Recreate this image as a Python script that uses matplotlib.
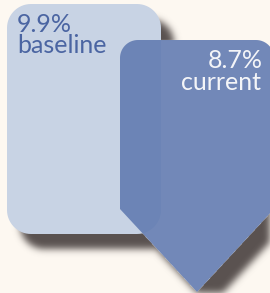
import numpy as np
import matplotlib
matplotlib.use('Agg')
import matplotlib.pyplot as plt
from matplotlib.path import Path
from matplotlib.patches import PathPatch

# ------------------------------------------------------------
# data
labels = ['baseline', 'current']
values = [9.9, 8.7]

# ------------------------------------------------------------
# layout (pixel coords, y down)
W, H = 270, 293
bg = '#fdf8f1'
light_col = '#c8d3e4'
dark_col = '#5f79b0'
dark_alpha = 0.88
shadow_col = (0.35, 0.32, 0.31)
shadow_off = (13, 15)
shadow_sigma = 3.5


def arc(cx, cy, r, a0, a1, n=16):
    t = np.radians(np.linspace(a0, a1, n))
    return list(zip(cx + r * np.cos(t), cy + r * np.sin(t)))


def rounded_rect(x0, y0, x1, y1, r):
    pts = []
    pts += arc(x0 + r, y0 + r, r, 180, 270)
    pts += arc(x1 - r, y0 + r, r, 270, 360)
    pts += arc(x1 - r, y1 - r, r, 0, 90)
    pts += arc(x0 + r, y1 - r, r, 90, 180)
    pts.append(pts[0])
    return Path(pts, closed=True)


def arrow_shape(x0, y0, x1, y_sh, tip_y, r):
    tip_x = (x0 + x1) / 2
    pts = [(x0, y_sh)]
    pts += arc(x0 + r, y0 + r, r, 180, 270)
    pts += arc(x1 - r, y0 + r, r, 270, 360)
    pts += [(x1, y_sh), (tip_x, tip_y), (x0, y_sh)]
    return Path(pts, closed=True)


light_path = rounded_rect(7, 4, 161, 234, 24)
dark_path = arrow_shape(120, 40, 274, 209, 292, 18)

# ------------------------------------------------------------
# shadows as a blurred raster
s = 2
xs = (np.arange(W * s) + 0.5) / s
ys = (np.arange(H * s) + 0.5) / s
gx, gy = np.meshgrid(xs, ys)
pts = np.column_stack([gx.ravel(), gy.ravel()])
off = np.array(shadow_off)


def mask_of(path, shift=(0, 0)):
    return path.contains_points(pts - np.array(shift)).reshape(gx.shape).astype(float)


def blur(a, sigma):
    k = np.arange(-int(4 * sigma), int(4 * sigma) + 1)
    k = np.exp(-0.5 * (k / sigma) ** 2)
    k /= k.sum()
    a = np.apply_along_axis(lambda m: np.convolve(m, k, mode='same'), 0, a)
    a = np.apply_along_axis(lambda m: np.convolve(m, k, mode='same'), 1, a)
    return a


sh = np.maximum(mask_of(light_path, off), mask_of(dark_path, off))
sh = blur(sh, shadow_sigma * s)
sh[mask_of(dark_path) > 0] = 0
rgba = np.zeros(sh.shape + (4,))
rgba[..., :3] = shadow_col
rgba[..., 3] = np.clip(sh, 0, 1)

# ------------------------------------------------------------
fig = plt.figure(figsize=(W / 100, H / 100), dpi=100, facecolor=bg)
ax = fig.add_axes([0, 0, 1, 1])
ax.set_facecolor(bg)
ax.set_xlim(0, W)
ax.set_ylim(H, 0)
ax.axis('off')

ax.imshow(rgba, extent=(0, W, H, 0), zorder=1, interpolation='antialiased')
ax.add_patch(PathPatch(light_path, facecolor=light_col, edgecolor='none', zorder=2))
ax.add_patch(PathPatch(dark_path, facecolor=dark_col, edgecolor='none',
                       alpha=dark_alpha, zorder=3))

font = dict(family=['Lato', 'DejaVu Sans'], fontsize=18, fontweight='normal')
ax.text(17, 32, '%.1f%%' % values[0], color='#4b65a2', ha='left', va='baseline', zorder=5, **font)
ax.text(17, 53, labels[0], color='#4b65a2', ha='left', va='baseline', zorder=5, **font)
ax.text(263, 68, '%.1f%%' % values[1], color='#f4f5f8', ha='right', va='baseline', zorder=5, **font)
ax.text(261, 90, labels[1], color='#f4f5f8', ha='right', va='baseline', zorder=5, **font)

fig.savefig('out.png', dpi=100, facecolor=bg)
